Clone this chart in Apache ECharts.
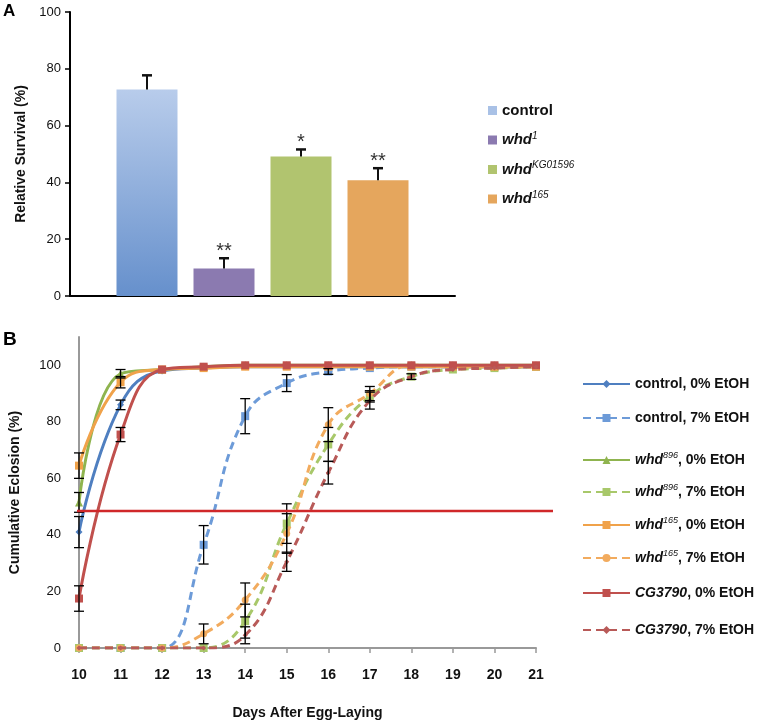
<!DOCTYPE html>
<html><head><meta charset="utf-8">
<script src="https://cdn.jsdelivr.net/npm/echarts@6/dist/echarts.min.js"></script>
<style>html,body{margin:0;padding:0;background:#fff}#c{width:757px;height:723px}</style>
</head><body><div id="c"></div>
<script>
// ---------- Panel A data ----------
const survivalCats = ['control', 'whd1', 'whdKG01596', 'whd165'];
const survivalVals = [72.7, 9.7, 49.1, 40.8];
const survivalErr  = [5.0, 3.6, 2.5, 4.2];
const survivalSig  = ['', '**', '*', '**'];
const survivalTicks = [0, 20, 40, 60, 80, 100];

// ---------- Panel B data ----------
const days = [10, 11, 12, 13, 14, 15, 16, 17, 18, 19, 20, 21];
const ctrl0  = [41, 86, 98, 99, 99.5, 99.5, 99.5, 99.5, 99.5, 99.5, 99.5, 99.5];
const ctrl0E = [5.5, 1.7, 0.5, 0, 0, 0, 0, 0, 0, 0, 0, 0];
const ctrl7  = [0, 0, 0, 36.5, 82, 93.7, 97.8, 99, 99.5, 99.5, 99.5, 99.5];
const ctrl7E = [0, 0, 0, 6.8, 6.2, 3, 1, 0.5, 0, 0, 0, 0];
const w896_0  = [51.5, 97, 98.5, 99.5, 100, 100, 100, 100, 100, 100, 100, 100];
const w896_0E = [3.5, 1.5, 0.5, 0, 0, 0, 0, 0, 0, 0, 0, 0];
const w896_7  = [0, 0, 0, 0, 9.5, 44, 72, 89, 96, 98.5, 99, 99.5];
const w896_7E = [0, 0, 0, 0, 6, 7, 6, 2, 0.5, 0, 0, 0];
const w165_0  = [64.5, 94, 98.5, 99, 99.5, 99.5, 99.5, 99.5, 99.5, 99.5, 99.5, 99.5];
const w165_0E = [4.5, 2, 0.5, 0, 0, 0, 0, 0, 0, 0, 0, 0];
const w165_7  = [0, 0, 0, 5, 17, 40.5, 79, 90, 100, 99.5, 99.5, 99.5];
const w165_7E = [0, 0, 0, 3.5, 6, 7, 6, 2.5, 0.5, 0, 0, 0];
const cg0  = [17.5, 75.5, 98.5, 99.5, 100, 100, 100, 100, 100, 100, 100, 100];
const cg0E = [4.5, 2.5, 0.5, 0, 0, 0, 0, 0, 0, 0, 0, 0];
const cg7  = [0, 0, 0, 0, 4.5, 30.5, 62, 87.5, 96, 98.5, 99, 99.5];
const cg7E = [0, 0, 0, 0, 3, 3.4, 4, 3, 1, 0.5, 0, 0];
const thresholdLine = 48.5;
const eclosionTicks = [0, 20, 40, 60, 80, 100];

const seriesNames = ['control, 0% EtOH', 'control, 7% EtOH', 'whd896, 0% EtOH', 'whd896, 7% EtOH',
                     'whd165, 0% EtOH', 'whd165, 7% EtOH', 'CG3790, 0% EtOH', 'CG3790, 7% EtOH'];
const seriesVals = [ctrl0, ctrl7, w896_0, w896_7, w165_0, w165_7, cg0, cg7];
const seriesErrs = [ctrl0E, ctrl7E, w896_0E, w896_7E, w165_0E, w165_7E, cg0E, cg7E];

// ---------- styles ----------
const FONT = '"Liberation Sans", Arial, Helvetica, sans-serif';
const bStyle = [
  {color: '#4f7fc0', dash: 'solid', sym: 'diamond', size: 7},
  {color: '#6d9bd8', dash: [8, 5], sym: 'rect', size: 8},
  {color: '#8fb44f', dash: 'solid', sym: 'triangle', size: 8},
  {color: '#a8c86a', dash: [8, 5], sym: 'rect', size: 8},
  {color: '#f0a24a', dash: 'solid', sym: 'rect', size: 8},
  {color: '#f2ab5e', dash: [8, 5], sym: 'circle', size: 7},
  {color: '#c0504d', dash: 'solid', sym: 'rect', size: 8},
  {color: '#b85a58', dash: [8, 5], sym: 'diamond', size: 5}
];
const legendTopsB = [381, 415, 455, 487, 520, 553, 590, 627];
const barColors = [
  new echarts.graphic.LinearGradient(0, 0, 0, 1, [{offset: 0, color: '#b8cceb'}, {offset: 1, color: '#6690cc'}]),
  '#8b7ab0', '#b1c46f', '#e5a65d'
];
const legendIconA = ['#a9c1e6', '#8b7ab0', '#b1c46f', '#e5a65d'];

const rich = {
  n: {fontFamily: FONT, fontWeight: 'bold', fontSize: 14, color: '#111', lineHeight: 18},
  i: {fontFamily: FONT, fontWeight: 'bold', fontStyle: 'italic', fontSize: 14, color: '#111', lineHeight: 18},
  s: {fontFamily: FONT, fontStyle: 'italic', fontSize: 9, color: '#111', lineHeight: 11, verticalAlign: 'top'},
  N: {fontFamily: FONT, fontWeight: 'bold', fontSize: 15, color: '#111', lineHeight: 18},
  I: {fontFamily: FONT, fontWeight: 'bold', fontStyle: 'italic', fontSize: 15, color: '#111', lineHeight: 18},
  S: {fontFamily: FONT, fontStyle: 'italic', fontSize: 10, color: '#111', lineHeight: 11, verticalAlign: 'top'}
};

function fmtB(name) {
  const parts = name.split(',');
  const g = parts[0], rest = ',' + parts[1];
  if (g === 'control') return '{n|' + name + '}';
  if (g.startsWith('whd')) return '{i|whd}{s|' + g.slice(3) + '}{n|' + rest + '}';
  return '{i|' + g + '}{n|' + rest + '}';
}
function fmtA(name) {
  if (name === 'control') return '{N|control}';
  return '{I|whd}{S|' + name.slice(3) + '}';
}

// ---------- series ----------
const series = [];
// Panel A bars
survivalCats.forEach((c, k) => {
  series.push({
    name: c, type: 'bar', xAxisIndex: 0, yAxisIndex: 0,
    barWidth: 61, barGap: '-100%',
    itemStyle: {color: barColors[k]},
    data: [[k + 1, survivalVals[k]]]
  });
});
// Panel A error bars + significance
series.push({
  type: 'custom', xAxisIndex: 0, yAxisIndex: 0, z: 5,
  data: survivalVals.map((v, k) => [k + 1, v, v + survivalErr[k], k]),
  renderItem: function (params, api) {
    const x = api.value(0), v = api.value(1), t = api.value(2), k = api.value(3);
    const p1 = api.coord([x, v]), p2 = api.coord([x, t]);
    const children = [
      {type: 'line', shape: {x1: p1[0], y1: p1[1], x2: p2[0], y2: p2[1]}, style: {stroke: '#111', lineWidth: 2}},
      {type: 'line', shape: {x1: p2[0] - 5, y1: p2[1], x2: p2[0] + 5, y2: p2[1]}, style: {stroke: '#111', lineWidth: 2.5}}
    ];
    if (survivalSig[k]) {
      children.push({type: 'text', style: {text: survivalSig[k], x: p2[0], y: p2[1] + 3, align: 'center', verticalAlign: 'bottom',
        font: '20px ' + FONT, fill: '#333'}});
    }
    return {type: 'group', children: children};
  }
});
// Panel B lines
seriesNames.forEach((nm, k) => {
  const st = bStyle[k];
  series.push({
    name: nm, type: 'line', xAxisIndex: 1, yAxisIndex: 1, smooth: 0.45,
    symbol: st.sym, symbolSize: st.size,
    lineStyle: {color: st.color, width: 3, type: st.dash},
    itemStyle: {color: st.color},
    data: days.map((d, i) => [d, seriesVals[k][i]]),
    z: 3 + k * 0.01
  });
  series.push({
    type: 'custom', xAxisIndex: 1, yAxisIndex: 1, z: 4,
    data: days.map((d, i) => [d, seriesVals[k][i] - seriesErrs[k][i], seriesVals[k][i] + seriesErrs[k][i]])
              .filter((r, i) => seriesErrs[k][i] > 0.9),
    renderItem: function (params, api) {
      const x = api.value(0);
      const a = api.coord([x, api.value(1)]), b = api.coord([x, api.value(2)]);
      const s = {stroke: '#000', lineWidth: 1.3};
      return {type: 'group', children: [
        {type: 'line', shape: {x1: a[0], y1: a[1], x2: b[0], y2: b[1]}, style: s},
        {type: 'line', shape: {x1: a[0] - 5, y1: a[1], x2: a[0] + 5, y2: a[1]}, style: s},
        {type: 'line', shape: {x1: b[0] - 5, y1: b[1], x2: b[0] + 5, y2: b[1]}, style: s}
      ]};
    }
  });
});
// threshold line
series.push({
  type: 'line', xAxisIndex: 2, yAxisIndex: 2, symbol: 'none', silent: true, z: 6,
  lineStyle: {color: '#d0282a', width: 2.5},
  data: [[0, thresholdLine], [1, thresholdLine]]
});

const legends = [{
  orient: 'vertical', left: 483, top: 98, itemGap: 13, itemWidth: 9, itemHeight: 9,
  icon: 'rect', selectedMode: false,
  data: survivalCats.map((c, k) => ({name: c, itemStyle: {color: legendIconA[k]}})),
  formatter: fmtA, textStyle: {rich: rich}
}];
seriesNames.forEach((nm, k) => {
  legends.push({
    left: 577, top: legendTopsB[k] - 9, itemWidth: 47, itemHeight: 10, selectedMode: false,
    data: [nm], formatter: fmtB, textStyle: {rich: rich}
  });
});

const option = {
  animation: false,
  backgroundColor: '#fff',
  title: [
    {text: 'A', left: 3, top: 3, padding: 0, textStyle: {fontFamily: FONT, fontWeight: 'bold', fontSize: 17, color: '#000'}},
    {text: 'B', left: 3, top: 330, padding: 0, textStyle: {fontFamily: FONT, fontWeight: 'bold', fontSize: 19, color: '#000'}}
  ],
  grid: [
    {left: 70, top: 12, width: 385, height: 284},
    {left: 77, top: 337, width: 459, height: 311},
    {left: 77, top: 337, width: 476, height: 311}
  ],
  legend: legends,
  xAxis: [
    {type: 'value', gridIndex: 0, min: 0, max: 5, splitLine: {show: false},
     axisLine: {show: true, onZero: false, lineStyle: {color: '#000', width: 2}},
     axisTick: {show: false}, axisLabel: {show: false}},
    {type: 'value', gridIndex: 1, min: 10, max: 21, interval: 1, splitLine: {show: false},
     axisLine: {show: true, onZero: false, lineStyle: {color: '#999', width: 2}},
     axisTick: {show: true, inside: false, length: 5, lineStyle: {color: '#999', width: 1.5}},
     axisLabel: {margin: 20, fontFamily: FONT, fontWeight: 'bold', fontSize: 14, color: '#111'},
     name: 'Days After Egg-Laying', nameLocation: 'middle', nameGap: 58,
     nameTextStyle: {fontFamily: FONT, fontWeight: 'bold', fontSize: 14, color: '#111'}},
    {type: 'value', gridIndex: 2, min: 0, max: 1, show: false}
  ],
  yAxis: [
    {type: 'value', gridIndex: 0, min: 0, max: 100, interval: 20, splitLine: {show: false},
     axisLine: {show: true, lineStyle: {color: '#000', width: 2}},
     axisTick: {show: true, length: 5, lineStyle: {color: '#000', width: 1.5}},
     axisLabel: {margin: 9, fontFamily: FONT, fontSize: 13, color: '#111'},
     name: 'Relative Survival (%)', nameLocation: 'middle', nameGap: 40,
     nameTextStyle: {fontFamily: FONT, fontWeight: 'bold', fontSize: 14, color: '#111'}},
    {type: 'value', gridIndex: 1, min: 0, max: 110, interval: 20, splitLine: {show: false},
     axisLine: {show: true, lineStyle: {color: '#999', width: 2}},
     axisTick: {show: false},
     axisLabel: {margin: 18, fontFamily: FONT, fontSize: 13, color: '#111',
       formatter: v => (eclosionTicks.indexOf(v) >= 0 ? String(v) : '')},
     name: 'Cumulative Eclosion (%)', nameLocation: 'middle', nameGap: 57,
     nameTextStyle: {fontFamily: FONT, fontWeight: 'bold', fontSize: 14, color: '#111'}},
    {type: 'value', gridIndex: 2, min: 0, max: 110, show: false}
  ],
  series: series
};
const chart = echarts.init(document.getElementById('c'), null, {renderer: 'canvas'});
chart.setOption(option);
</script></body></html>
